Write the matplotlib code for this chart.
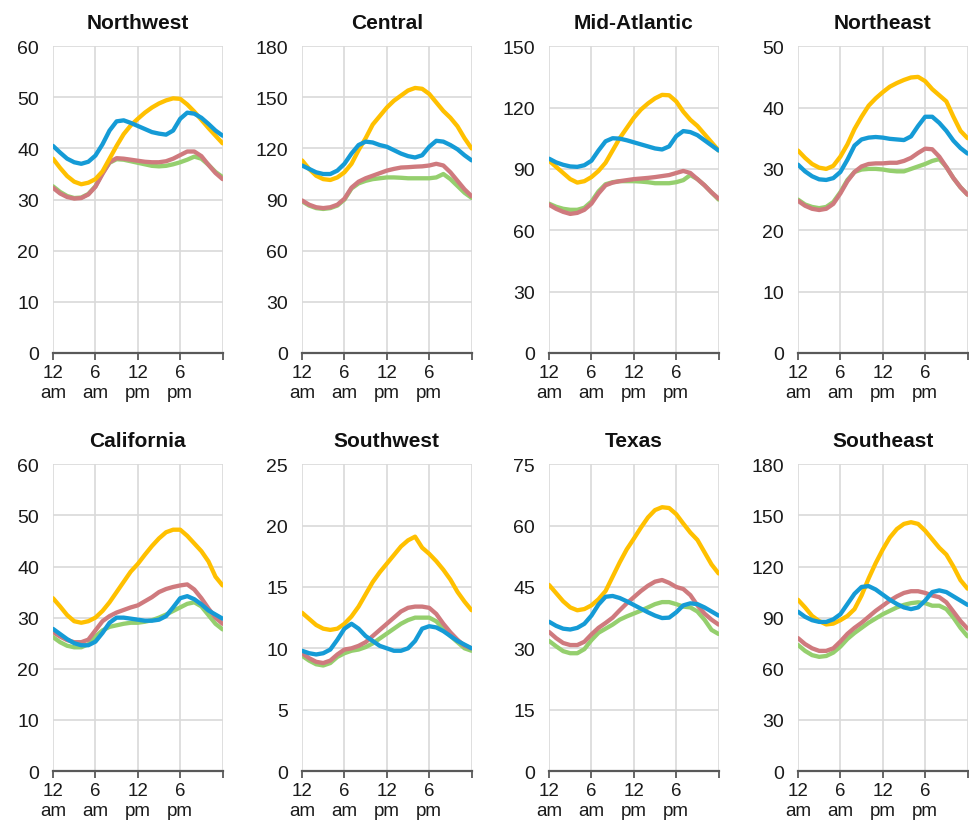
import matplotlib.pyplot as plt
import numpy as np

plt.rcParams['font.family'] = ['Liberation Sans', 'DejaVu Sans']

hours = np.arange(0, 25)
regions = ["Northwest", "Central", "Mid-Atlantic", "Northeast",
           "California", "Southwest", "Texas", "Southeast"]
y_max = [60, 180, 150, 50, 60, 25, 75, 180]
y_step = [10, 30, 30, 10, 10, 5, 15, 30]
x_labels = ["12\nam", "6\nam", "12\npm", "6\npm", ""]

# hourly load per region, one list per line colour
yellow = {
    "Northwest": [38, 36.2, 34.6, 33.5, 33, 33.3, 34, 35.5, 38, 40.5, 42.8, 44.5, 45.8,
                  47, 48, 48.8, 49.4, 49.8, 49.7, 48.6, 47.2, 45.6, 44, 42.5, 41],
    "Central": [113, 108, 104, 102, 101.5, 103, 106, 111, 119, 126, 134, 139, 144,
                148, 151, 154, 155.5, 155, 152, 147, 142, 138, 133, 126, 120],
    "Mid-Atlantic": [94, 91, 88, 85, 83.3, 84, 86, 89, 93, 99, 105, 110, 115,
                     119, 122, 124.5, 126.2, 126, 123, 118, 114, 111, 107, 103, 99],
    "Northeast": [33, 31.8, 30.8, 30.2, 30, 30.5, 32, 34, 36.5, 38.5, 40.3, 41.5, 42.5,
                  43.4, 44, 44.5, 44.9, 45, 44.3, 43, 42, 41, 38.5, 36.2, 35],
    "California": [33.8, 32.2, 30.5, 29.3, 29, 29.3, 30, 31.3, 33, 35, 37, 39, 40.5,
                   42.3, 44, 45.5, 46.7, 47.2, 47.2, 46, 44.5, 43, 41, 38, 36.3],
    "Southwest": [12.9, 12.4, 11.9, 11.6, 11.5, 11.6, 12, 12.6, 13.4, 14.4, 15.4, 16.2, 16.9,
                  17.6, 18.3, 18.8, 19.1, 18.2, 17.7, 17.1, 16.4, 15.6, 14.6, 13.8, 13.1],
    "Texas": [45.5, 43.5, 41.5, 40, 39.3, 39.6, 40.5, 42, 44, 47.5, 51, 54.2, 56.8,
              59.5, 62, 63.8, 64.5, 64.3, 62.8, 60.5, 58.3, 56.5, 53.5, 50.5, 48.3],
    "Southeast": [100.5, 96, 91, 88, 86, 86.5, 88.5, 91, 95, 103, 113, 122, 130,
                  137, 142, 145, 146, 145, 141, 136, 131, 127, 120, 112, 107],
}
blue = {
    "Northwest": [40.5, 39.2, 38, 37.3, 37, 37.4, 38.6, 40.8, 43.5, 45.3, 45.5, 45, 44.4,
                  43.8, 43.2, 42.9, 42.7, 43.5, 45.8, 47, 46.8, 46, 44.8, 43.5, 42.5],
    "Central": [110, 108, 106, 105, 105, 107, 111, 117, 122, 124, 123.5, 122, 121,
                119, 117, 115.5, 114.7, 116, 121, 124.5, 124, 122, 119.5, 116, 113],
    "Mid-Atlantic": [95, 93.2, 92, 91.2, 91, 91.8, 94, 99, 103.5, 105, 104.8, 104, 103,
                     102, 101, 100, 99.5, 101, 106, 108.5, 108, 106.5, 104, 101.5, 99],
    "Northeast": [30.7, 29.6, 28.8, 28.3, 28.2, 28.5, 29.5, 31.5, 33.8, 34.8, 35.1, 35.2, 35.1,
                  34.9, 34.8, 34.7, 35.3, 37, 38.5, 38.5, 37.5, 36.2, 34.6, 33.4, 32.5],
    "California": [27.8, 26.8, 25.8, 25, 24.6, 24.6, 25.3, 27, 29, 30, 30, 29.8, 29.6,
                   29.4, 29.4, 29.6, 30.3, 32, 33.8, 34.2, 33.6, 32.6, 31.4, 30.6, 29.8],
    "Southwest": [9.8, 9.6, 9.5, 9.6, 9.9, 10.7, 11.6, 12, 11.6, 11, 10.6, 10.2, 10,
                  9.8, 9.8, 10, 10.6, 11.6, 11.8, 11.7, 11.4, 11, 10.6, 10.3, 10],
    "Texas": [36.5, 35.5, 34.8, 34.6, 35, 36, 38, 40.7, 42.6, 42.8, 42.3, 41.5, 40.6,
              39.7, 38.8, 38, 37.4, 37.5, 38.8, 40.5, 41, 40.8, 40, 39, 38],
    "Southeast": [93.5, 90.5, 88.5, 87.5, 87.5, 89, 92, 98, 104, 108, 108.5, 106.5, 103.5,
                  100.5, 98, 96, 95, 96, 100, 105, 106, 105, 102.5, 100, 97.5],
}
red = {
    "Northwest": [32.3, 31.2, 30.5, 30.2, 30.3, 31, 32.5, 35, 37.3, 38.1, 38, 37.8, 37.6,
                  37.4, 37.3, 37.3, 37.5, 38, 38.7, 39.4, 39.4, 38.5, 36.8, 35.2, 34],
    "Central": [89.5, 87, 85.5, 85, 85.5, 87, 90.5, 97, 100.5, 102.5, 104, 105.5, 107,
                108, 108.8, 109, 109.3, 109.5, 110, 111, 110, 106, 101, 96, 92],
    "Mid-Atlantic": [72.5, 70.5, 69, 68, 68.5, 70, 73, 78, 82, 83.3, 84, 84.5, 85,
                     85.3, 85.6, 86, 86.5, 87, 88, 89, 88, 85, 82, 78.5, 75.5],
    "Northeast": [24.8, 24, 23.5, 23.3, 23.5, 24.3, 26, 28, 29.5, 30.4, 30.8, 30.9, 30.9,
                  31, 31, 31.3, 31.8, 32.6, 33.3, 33.2, 32, 30.3, 28.5, 27, 25.8],
    "California": [27.2, 26.3, 25.6, 25.2, 25.2, 25.7, 27.5, 29.3, 30.3, 31, 31.5, 32, 32.4,
                   33.2, 34, 35, 35.6, 36, 36.3, 36.5, 35.5, 33.8, 31.8, 30, 28.8],
    "Southwest": [9.6, 9.2, 8.9, 8.8, 9, 9.5, 9.9, 10, 10.2, 10.5, 11, 11.5, 12,
                  12.5, 13, 13.3, 13.4, 13.4, 13.3, 12.8, 12, 11.3, 10.7, 10.2, 10],
    "Texas": [34, 32.5, 31.3, 30.8, 30.8, 31.6, 33.4, 35, 36.2, 37.5, 39.3, 41, 42.5,
              44, 45.3, 46.3, 46.7, 46, 45, 44.5, 43, 40.5, 38.5, 37, 35.8],
    "Southeast": [78, 74.5, 72, 70.5, 70.5, 72, 76, 80.5, 84, 87, 90.5, 94, 97,
                  100, 102.5, 104.5, 105.5, 105.5, 104.5, 103, 102, 99, 93.5, 88, 83.5],
}
green = {
    "Northwest": [32.6, 31.5, 30.7, 30.3, 30.4, 31.1, 32.6, 35.2, 37.2, 37.9, 37.8, 37.5, 37.2,
                  36.9, 36.6, 36.5, 36.6, 36.9, 37.3, 37.8, 38.4, 38, 36.8, 35.4, 34.4],
    "Central": [89, 86.5, 85, 84.5, 85, 86.5, 90, 96.5, 99.5, 101, 102, 102.5, 103,
                103, 102.8, 102.5, 102.5, 102.5, 102.5, 103, 105, 102, 98, 94, 91],
    "Mid-Atlantic": [73, 71.5, 70.5, 70, 70, 71, 74, 79, 82.5, 83.5, 84, 84, 84,
                     83.8, 83.5, 83, 83, 83, 83.5, 84.5, 87, 85, 82, 78.5, 75],
    "Northeast": [25, 24.2, 23.8, 23.6, 23.8, 24.6, 26.2, 28.2, 29.5, 29.9, 30, 30, 29.9,
                  29.7, 29.6, 29.6, 30, 30.4, 30.8, 31.3, 31.6, 30.3, 28.5, 27, 25.8],
    "California": [26.2, 25.2, 24.5, 24.2, 24.2, 24.8, 26.3, 27.5, 28.2, 28.5, 28.8, 29, 29,
                   29.2, 29.5, 30, 30.6, 31.3, 32, 32.7, 33, 32.2, 30.5, 28.8, 27.7],
    "Southwest": [9.4, 9, 8.7, 8.6, 8.8, 9.3, 9.6, 9.8, 9.9, 10.1, 10.4, 10.8, 11.2,
                  11.6, 12, 12.3, 12.5, 12.5, 12.5, 12.2, 11.6, 11, 10.5, 10, 9.8],
    "Texas": [31.8, 30.5, 29.3, 28.8, 28.8, 29.8, 32, 33.8, 34.8, 35.8, 37, 37.8, 38.5,
              39.2, 40, 40.8, 41.3, 41.3, 40.8, 40.2, 40, 39, 37, 34.5, 33.5],
    "Southeast": [74, 70.5, 68, 67, 67.5, 69.5, 73, 77.5, 81, 84, 87, 89.5, 92,
                  94, 96, 97.5, 98.5, 99, 98.5, 97, 97, 95, 90, 84, 79],
}

# draw order: green at the back, blue on top
series = [(green, "#95CF6E"), (red, "#CF7A7E"), (yellow, "#FFC000"), (blue, "#159BD6")]

fig = plt.figure(figsize=(9.69, 8.28), dpi=100)
lefts = [0.0547, 0.3117, 0.5666, 0.8235]
bottoms = [0.5725, 0.0676]

for i, name in enumerate(regions):
    row, col = divmod(i, 4)
    ax = fig.add_axes([lefts[col], bottoms[row], 0.175, 0.3705])
    for data, color in series:
        ax.plot(hours, data[name], color=color, lw=3.1, solid_capstyle="round")
    ax.set_xlim(0, 24)
    ax.set_ylim(0, y_max[i])
    ax.set_xticks([0, 6, 12, 18, 24])
    ax.set_xticklabels(x_labels, fontsize=13.5, color="#1a1a1a", linespacing=1.25)
    ax.set_yticks(np.arange(0, y_max[i] + 1, y_step[i]))
    ax.tick_params(axis="y", length=0, pad=10, labelsize=14, labelcolor="#1a1a1a")
    ax.tick_params(axis="x", length=5, width=1.3, color="#595959", pad=3)
    ax.grid(True, color="#d9d9d9", lw=1.2)
    ax.set_axisbelow(True)
    for s in ["top", "right", "left"]:
        ax.spines[s].set_visible(False)
    ax.spines["bottom"].set_color("#595959")
    ax.spines["bottom"].set_linewidth(1.6)
    ax.set_title(name, fontsize=15, fontweight="bold", color="#111111", pad=13)

fig.savefig("out.png", dpi=100)
